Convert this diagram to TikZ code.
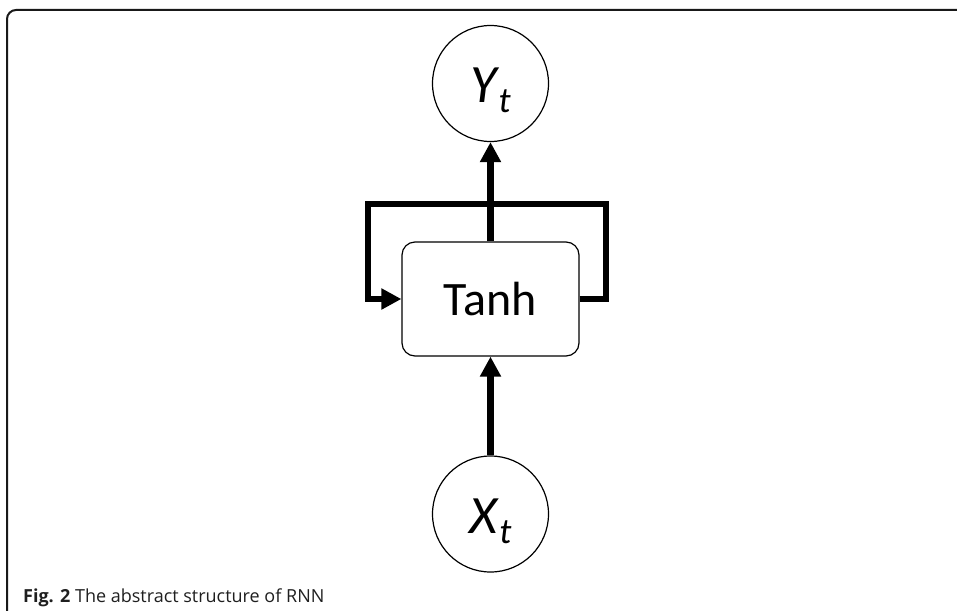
\documentclass[tikz,border=0pt]{standalone}
\usepackage{fontspec}
\setmainfont{Carlito}
\newfontfamily\capfont{Open Sans}
\usetikzlibrary{arrows.meta}
\newcommand{\varsub}[2]{{\fontsize{54}{60}\selectfont\itshape #1}\kern2pt\raisebox{-10pt}{\fontsize{36}{40}\selectfont\itshape #2}}
\begin{document}
\begin{tikzpicture}[x=1pt,y=-1pt,
  unit/.style={circle,draw,line width=1.2pt,minimum size=116pt,inner sep=0pt},
  cell/.style={draw,line width=1.2pt,rounded corners=13pt,minimum width=177pt,minimum height=114pt,inner sep=0pt},
  flow/.style={line width=6.5pt,-{Triangle[length=20pt,width=20pt]}},
  lbl/.style={inner sep=0pt}]
\useasboundingbox (0,0) rectangle (957,610);
\draw[line width=2pt,rounded corners=9pt,color=black!90] (7,612) -- (7,10) -- (960,10);
\node[unit] (Y) at (490.5,83.5) {};
\node[lbl,anchor=base] (Ylbl) at (490.5,102) {\varsub{Y}{t}};
\node[unit] (X) at (490.5,514) {};
\node[lbl,anchor=base] (Xlbl) at (490.5,533) {\varsub{X}{t}};
\node[cell,font=\fontsize{48}{56}\selectfont] (T) at (490.5,299) {Tanh};
\coordinate (rt) at (606,204);
\coordinate (lt) at (368,204);
\draw[flow] (T.north) -- (Y.south);
\draw[flow] (X.north) -- (T.south);
\draw[flow,line join=miter] (T.east) -| (rt) -- (lt) |- (T.west);
\node[anchor=base west,font=\capfont\fontsize{18}{21}\selectfont,text=black!88,inner sep=0pt] (cap) at (23,602) {\textbf{Fig. 2} The abstract structure of RNN};
\end{tikzpicture}
\end{document}
